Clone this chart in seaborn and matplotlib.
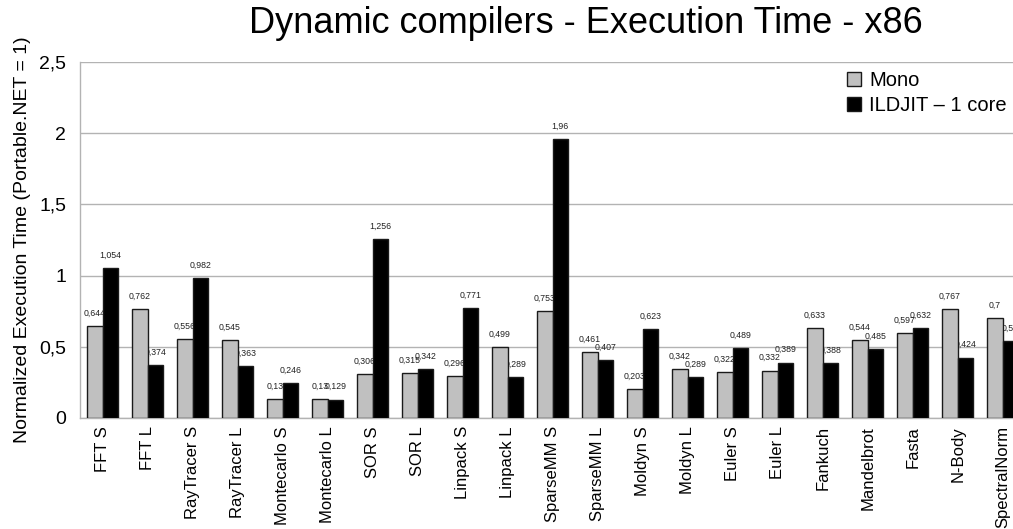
import matplotlib
matplotlib.use("Agg")
import matplotlib.pyplot as plt
import numpy as np
import pandas as pd
import seaborn as sns

benchmarks = [
    "FFT S", "FFT L", "RayTracer S", "RayTracer L", "Montecarlo S",
    "Montecarlo L", "SOR S", "SOR L", "Linpack S", "Linpack L",
    "SparseMM S", "SparseMM L", "Moldyn S", "Moldyn L", "Euler S",
    "Euler L", "Fankuch", "Mandelbrot", "Fasta", "N-Body", "SpectralNorm",
]
mono = [0.644, 0.762, 0.556, 0.545, 0.13, 0.13, 0.306, 0.315, 0.296, 0.499,
        0.753, 0.461, 0.203, 0.342, 0.322, 0.332, 0.633, 0.544, 0.597, 0.767, 0.7]
ildjit = [1.054, 0.374, 0.982, 0.363, 0.246, 0.129, 1.256, 0.342, 0.771, 0.289,
          1.96, 0.407, 0.623, 0.289, 0.489, 0.389, 0.388, 0.485, 0.632, 0.424, 0.54]
series_names = ["Mono", "ILDJIT \u2013 1 core"]
y_ticks = [0, 0.5, 1, 1.5, 2, 2.5]

df = pd.DataFrame({
    "Benchmark": benchmarks * 2,
    "Compiler": [series_names[0]] * len(benchmarks) + [series_names[1]] * len(benchmarks),
    "Time": mono + ildjit,
})

sns.set_style("white")
plt.rcParams["font.family"] = ["Liberation Sans", "DejaVu Sans"]
plt.rcParams["text.color"] = "black"
plt.rcParams["axes.labelcolor"] = "black"
plt.rcParams["xtick.labelcolor"] = "black"
plt.rcParams["ytick.labelcolor"] = "black"

fig = plt.figure(figsize=(10.13, 5.29), dpi=100)
ax = fig.add_axes([0.079, 0.21, 0.933, 0.673])

sns.barplot(
    data=df, x="Benchmark", y="Time", hue="Compiler",
    palette={series_names[0]: "#c0c0c0", series_names[1]: "#000000"},
    saturation=1, width=0.68, edgecolor="#1a1a1a", linewidth=1.0,
    errorbar=None, ax=ax, zorder=3,
)

# value labels sit behind the bars, like in the original
for container in ax.containers:
    labels = [f"{b.get_height():g}".replace(".", ",") for b in container]
    texts = ax.bar_label(container, labels=labels, padding=6, fontsize=6.3, color="#222222")
    for t in texts:
        t.set_zorder(2)
for p in ax.patches:
    p.set_zorder(3)

ax.set_ylim(0, 2.5)
ax.set_xlim(-0.5, len(benchmarks) - 0.5)
ax.set_yticks(y_ticks)
ax.set_yticklabels([f"{v:g}".replace(".", ",") for v in y_ticks], fontsize=14)
ax.yaxis.grid(True, color="#b3b3b3", linewidth=1.0, zorder=0)
ax.set_axisbelow(True)

ax.set_xticks(range(len(benchmarks)))
ax.set_xticklabels(benchmarks, rotation=90, fontsize=12)
ax.set_xticks(np.arange(-0.5, len(benchmarks), 1), minor=True)
ax.tick_params(axis="x", which="major", length=0, pad=6)
ax.tick_params(axis="x", which="minor", length=6, color="#b3b3b3")
ax.tick_params(axis="y", length=6, color="#b3b3b3", pad=4)

ax.set_xlabel("")
ax.set_ylabel("Normalized Execution Time (Portable.NET = 1)", fontsize=14, labelpad=6)

for side in ["top", "right"]:
    ax.spines[side].set_visible(False)
for side in ["left", "bottom"]:
    ax.spines[side].set_color("#b3b3b3")
    ax.spines[side].set_linewidth(1.0)

ax.legend(
    loc="upper right", bbox_to_anchor=(1.0, 1.025), frameon=False, fontsize=14.5,
    handlelength=0.7, handleheight=0.7, handletextpad=0.4, labelspacing=0.3,
)

fig.text(0.578, 0.955, "Dynamic compilers - Execution Time - x86",
         ha="center", va="center", fontsize=26)

fig.savefig("out.png", dpi=100)
